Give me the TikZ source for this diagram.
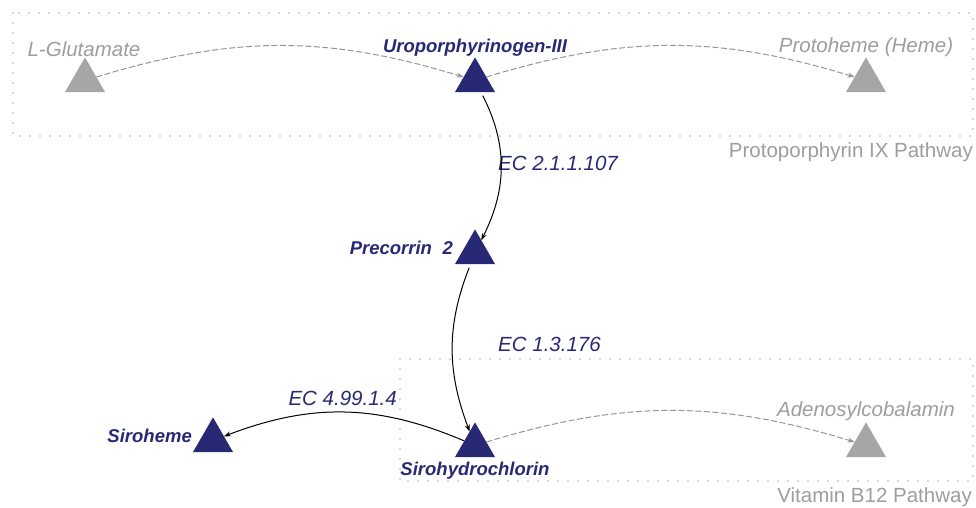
\documentclass[tikz,border=0pt]{standalone}
\usepackage{fontspec}
\setmainfont{Liberation Sans}
\usetikzlibrary{shapes.geometric,arrows.meta}
\definecolor{navy}{RGB}{40,41,116}
\definecolor{trigray}{RGB}{166,166,166}
\definecolor{txtgray}{RGB}{158,158,158}
\definecolor{boxgray}{RGB}{175,175,175}
\definecolor{edgegray}{RGB}{150,150,150}
\begin{document}
\begin{tikzpicture}[x=1pt,y=-1pt,
  tri/.style={regular polygon, regular polygon sides=3, minimum size=46.2pt, inner sep=0pt, outer sep=0pt, draw=none},
  tnavy/.style={tri, fill=navy},
  tgray/.style={tri, fill=trigray},
  boldlab/.style={font=\fontsize{18.5}{22}\selectfont\bfseries\itshape, text=navy, inner sep=0pt},
  graylab/.style={font=\fontsize{20.5}{24}\selectfont\itshape, text=txtgray, inner sep=0pt},
  eclab/.style={font=\fontsize{20.5}{24}\selectfont\itshape, text=navy, inner sep=0pt},
  pathlab/.style={font=\fontsize{20.5}{24}\selectfont, text=txtgray, inner sep=0pt},
  boxline/.style={draw=boxgray, line width=1.8pt, line cap=round, dash pattern=on 0pt off 10pt},
  react/.style={draw=black, line width=1pt, -{Stealth[length=7pt,width=5pt]}},
  other/.style={draw=edgegray, line width=1pt, dash pattern=on 6pt off 2.5pt, -{Stealth[length=7pt,width=5pt]}}
]
\useasboundingbox (0,0) rectangle (976,508);
\fill[white] (0,0) rectangle (976,508);

% pathway frames
\draw[boxline] (13,13) rectangle (973,136);
\draw[boxline] (400,359) rectangle (973,481);
\node[pathlab, anchor=base east] (ppix) at (973,157) {Protoporphyrin IX Pathway};
\node[pathlab, anchor=base east] (vb12) at (972,502) {Vitamin B12 Pathway};

% compounds
\node[tgray] (glu) at (85,80.5) {};
\node[tnavy] (uro) at (475,80.5) {};
\node[tgray] (proto) at (866,80.5) {};
\node[tnavy] (pre) at (475,252.5) {};
\node[tnavy] (siroh) at (213,440.5) {};
\node[tnavy] (sirohy) at (475,445.5) {};
\node[tgray] (ado) at (866,445.5) {};

% compound labels
\node[graylab, anchor=base] (lglu) at (84,57) {L-Glutamate};
\node[boldlab, anchor=base] (luro) at (475,53) {Uroporphyrinogen-III};
\node[graylab, anchor=base] (lproto) at (866,53) {Protoheme (Heme)};
\node[boldlab, anchor=base east] (lpre) at (453,254) {Precorrin\hspace{10.5pt}2};
\node[boldlab, anchor=base east] (lsiroh) at (192,442) {Siroheme};
\node[boldlab, anchor=base] (lsirohy) at (475,475) {Sirohydrochlorin};
\node[graylab, anchor=base] (lado) at (866,416) {Adenosylcobalamin};

% enzyme labels
\node[eclab, anchor=base west] (ec1) at (498,170) {EC 2.1.1.107};
\node[eclab, anchor=base west] (ec2) at (498,351) {EC 1.3.176};
\node[eclab, anchor=base east] (ec3) at (397,405) {EC 4.99.1.4};

% connectors
\draw[other] (glu) to[bend left=17] (uro);
\draw[other] (uro) to[bend left=17] (proto);
\draw[react, shorten <=4pt] (uro) to[bend left=27] (pre);
\draw[react, shorten <=4pt] (pre) to[bend right=21] (sirohy);
\draw[react] (sirohy) to[bend right=22] (siroh);
\draw[other] (sirohy) to[bend left=17] (ado);
\end{tikzpicture}
\end{document}
